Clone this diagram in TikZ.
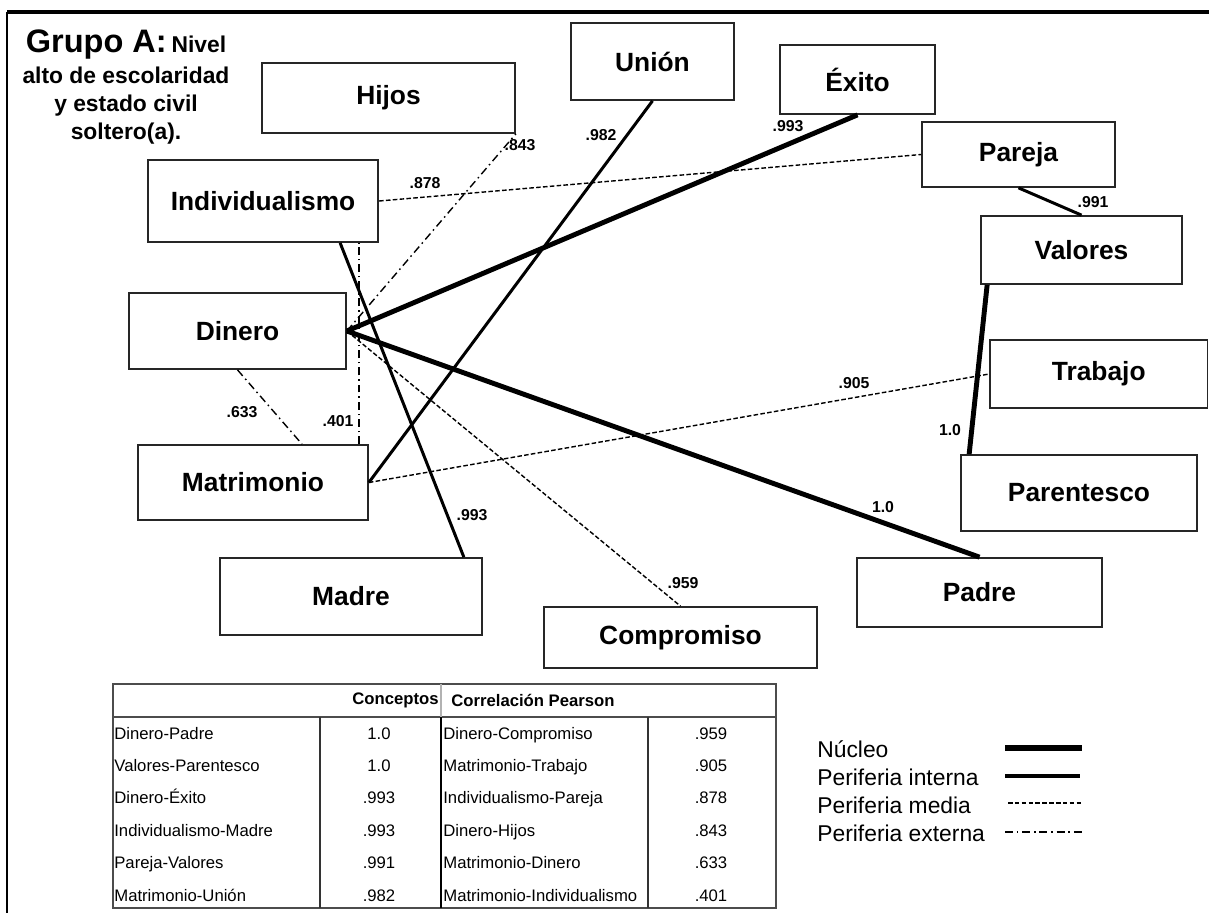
\documentclass[tikz,border=0pt]{standalone}
\usepackage{fontspec}
\setmainfont{Liberation Sans}
\begin{document}
\begin{tikzpicture}[x=0.02cm,y=-0.02cm,
  caja/.style={draw=black!85,line width=1pt,inner sep=0pt,font=\fontsize{15}{18}\selectfont\bfseries},
  valor/.style={inner sep=0pt,font=\fontsize{9}{11}\selectfont\bfseries},
  celda/.style={inner sep=0pt,font=\fontsize{9.5}{11}\selectfont},
  leyenda/.style={anchor=base west,inner sep=0pt,font=\fontsize{13}{16}\selectfont},
  nucleo/.style={line width=2.8pt},
  interna/.style={line width=1.7pt},
  media/.style={line width=0.8pt,dash pattern=on 2.6pt off 1.3pt},
  externa/.style={line width=0.8pt,dash pattern=on 4.5pt off 2.2pt on 0.9pt off 2.2pt}]
\useasboundingbox (0,0) rectangle (1209,913);
\draw[line width=2.2pt](7,12)--(1209,12);
\draw[line width=1.5pt](7,12)--(7,913);
% titulo
\node[anchor=base,inner sep=0pt,font=\bfseries] (titulo) at (126,52) {{\fontsize{18.5}{22}\selectfont Grupo A:} {\fontsize{13}{16}\selectfont Nivel}};
\node[anchor=base,inner sep=0pt,font=\fontsize{13}{16}\selectfont\bfseries] (sub1) at (126,83) {alto de escolaridad};
\node[anchor=base,inner sep=0pt,font=\fontsize{13}{16}\selectfont\bfseries] (sub2) at (126,111) {y estado civil};
\node[anchor=base,inner sep=0pt,font=\fontsize{13}{16}\selectfont\bfseries] (sub3) at (126,139) {soltero(a).};
% conceptos
\node[caja,minimum width=5.06cm,minimum height=1.4cm] (hijos) at (388.5,98) {Hijos};
\node[caja,minimum width=4.61cm,minimum height=1.64cm] (indiv) at (263,201) {Individualismo};
\node[caja,minimum width=3.26cm,minimum height=1.54cm] (union) at (652.5,61.5) {Unión};
\node[caja,minimum width=3.1cm,minimum height=1.38cm] (exito) at (857.5,79.5) {Éxito};
\node[caja,minimum width=3.86cm,minimum height=1.3cm] (pareja) at (1018.5,154.5) {Pareja};
\node[caja,minimum width=4.02cm,minimum height=1.36cm] (valores) at (1081.5,250) {Valores};
\node[caja,minimum width=4.34cm,minimum height=1.52cm] (dinero) at (237.5,331) {Dinero};
\node[caja,minimum width=4.35cm,minimum height=1.36cm] (trabajo) at (1098.75,374) {Trabajo};
\node[caja,minimum width=4.6cm,minimum height=1.5cm] (matri) at (253,482.5) {Matrimonio};
\node[caja,minimum width=4.72cm,minimum height=1.52cm] (parent) at (1079,493) {Parentesco};
\node[caja,minimum width=5.24cm,minimum height=1.54cm] (madre) at (351,596.5) {Madre};
\node[caja,minimum width=4.9cm,minimum height=1.38cm] (padre) at (979.5,592.5) {Padre};
\node[caja,minimum width=5.46cm,minimum height=1.22cm] (compro) at (680.5,637.5) {Compromiso};
% relaciones
\draw[nucleo](dinero.east)--(exito.south);
\draw[nucleo](dinero.east)--(padre.north);
\draw[nucleo]([xshift=0.14cm]valores.south west)--([xshift=0.18cm]parent.north west);
\draw[interna]([xshift=-0.78cm]indiv.south east)--([xshift=-0.38cm]madre.north east);
\draw[interna](pareja.south)--(valores.north);
\draw[interna](matri.east)--(union.south);
\draw[media](dinero.east)--(compro.north);
\draw[media](matri.east)--(trabajo.west);
\draw[media](indiv.east)--(pareja.west);
\draw[externa](dinero.east)--(hijos.south east);
\draw[externa](dinero.south)--([xshift=0.98cm]matri.north);
\draw[externa]([xshift=-0.2cm]matri.north east)--([xshift=-0.2cm]matri.north east |- indiv.south);
% valores
\node[valor] (v843) at (520,145) {.843};
\node[valor] (v878) at (425,183) {.878};
\node[valor] (v982) at (601,135) {.982};
\node[valor] (v993a) at (788,126) {.993};
\node[valor] (v991) at (1093,202) {.991};
\node[valor] (v633) at (242,412) {.633};
\node[valor] (v401) at (338,421) {.401};
\node[valor] (v993b) at (472,515) {.993};
\node[valor] (v959) at (683,583) {.959};
\node[valor] (v905) at (854,383) {.905};
\node[valor] (v10a) at (950,430) {1.0};
\node[valor] (v10b) at (883,507) {1.0};
% tabla
\draw[black!70,line width=1.1pt](113,684)rectangle(776,908);
\draw[black!70,line width=0.9pt](113,717)--(776,717);
\draw[black!30,line width=0.6pt](441,684)--(441,717);
\draw[black!80,line width=1.1pt](320,717)--(320,908)(648,717)--(648,908);
\draw[line width=1.4pt](441,717)--(441,908);
\node[celda,anchor=east,font=\fontsize{9.5}{11}\selectfont\bfseries] (hcon) at (439,700) {Conceptos};
\node[celda,anchor=west,font=\fontsize{9.5}{11}\selectfont\bfseries] (hcor) at (451,700) {Correlación Pearson};
\foreach \a/\b/\c/\d [count=\i from 0] in {Dinero-Padre/1.0/Dinero-Compromiso/.959,
  Valores-Parentesco/1.0/Matrimonio-Trabajo/.905,
  Dinero-Éxito/.993/Individualismo-Pareja/.878,
  Individualismo-Madre/.993/Dinero-Hijos/.843,
  Pareja-Valores/.991/Matrimonio-Dinero/.633,
  Matrimonio-Unión/.982/Matrimonio-Individualismo/.401}{
  \node[celda,anchor=base west] (ca\i) at (114,739+32.4*\i) {\a};
  \node[celda,anchor=base] (cb\i) at (379,739+32.4*\i) {\b};
  \node[celda,anchor=base west] (cc\i) at (443,739+32.4*\i) {\c};
  \node[celda,anchor=base] (cd\i) at (711,739+32.4*\i) {\d};
}
% leyenda
\node[leyenda] (lnuc) at (817,757) {Núcleo};
\node[leyenda] (lint) at (817,785) {Periferia interna};
\node[leyenda] (lmed) at (817,813) {Periferia media};
\node[leyenda] (lext) at (817,841) {Periferia externa};
\draw[nucleo,line width=3.2pt](1005,748)--(1082,748);
\draw[interna,line width=2pt](1005,776)--(1080,776);
\draw[media](1008,803)--(1083,803);
\draw[externa](1005,832)--(1083,832);
\end{tikzpicture}
\end{document}
